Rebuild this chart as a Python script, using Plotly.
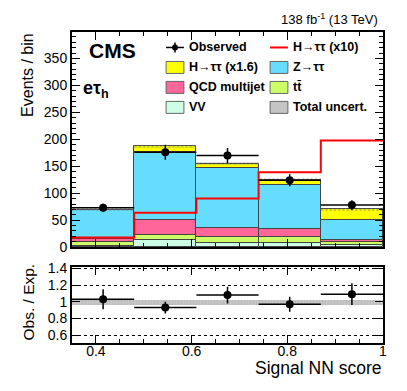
import numpy as np
import plotly.graph_objects as go

# binning of the NN score
edges = [0.35, 0.48, 0.61, 0.74, 0.87, 1.0]

# stacked backgrounds / signal (events per bin)
vv = [3, 13, 8, 8, 4]
ttbar = [7, 9, 10.5, 11, 6]
qcd = [6, 28, 17.5, 14, 3]
ztt = [52, 126, 110, 82, 38]
htt_x16 = [1.5, 11, 9, 10, 19]
htt_x10 = [18, 64, 90, 139, 198]
total_unc = [2.5, 3, 2.5, 3, 3]

observed = [73, 176, 170, 124, 78]
observed_err = [7.5, 14, 14, 11, 9]

ratio = [1.03, 0.93, 1.08, 0.97, 1.09]
ratio_err = [0.12, 0.07, 0.1, 0.09, 0.13]
ratio_unc = [0.03, 0.03, 0.03, 0.03, 0.03]

FONT = "Liberation Sans"
OFF = 8  # page body margin
W, H = 391, 375
L, R, T, B = 64, 13, 23.5, 40

edges_a = np.array(edges)
centers = 0.5 * (edges_a[:-1] + edges_a[1:])
widths = np.diff(edges_a)

fig = go.Figure()

stack = [
    (vv, "#ccffe6"),
    (ttbar, "#ccff66"),
    (qcd, "#ff6699"),
    (ztt, "#66ddff"),
    (htt_x16, "#ffff00"),
]
base = np.zeros(len(centers))
for vals, col in stack:
    fig.add_trace(go.Bar(x=centers, y=vals, base=base.copy(), width=widths,
                         marker=dict(color=col, line=dict(color="#444444", width=1)),
                         showlegend=False, xaxis="x", yaxis="y"))
    base += np.array(vals)

unc = np.array(total_unc)
fig.add_trace(go.Bar(x=centers, y=2 * unc, base=base - unc, width=widths,
                     marker=dict(color="rgba(0,0,0,0)", line=dict(width=0),
                                 pattern=dict(shape="x", fgcolor="#777777", size=3, solidity=0.5)),
                     showlegend=False, xaxis="x", yaxis="y"))

fig.add_trace(go.Scatter(x=edges, y=htt_x10 + [htt_x10[-1]], mode="lines", line_shape="hv",
                         line=dict(color="#ff0000", width=2), showlegend=False,
                         xaxis="x", yaxis="y"))

fig.add_trace(go.Scatter(x=centers, y=observed, mode="markers",
                         marker=dict(color="black", size=8),
                         error_y=dict(type="data", array=observed_err, color="black", thickness=1.5, width=0),
                         error_x=dict(type="data", array=widths / 2, color="black", thickness=1.5, width=0),
                         showlegend=False, xaxis="x", yaxis="y"))

# ratio panel
runc = np.array(ratio_unc)
fig.add_trace(go.Bar(x=centers, y=2 * runc, base=1 - runc, width=widths,
                     marker=dict(color="#c8c8c8", line=dict(width=0),
                                 pattern=dict(shape="+", fgcolor="#a0a0a0", size=3, solidity=0.3)),
                     showlegend=False, xaxis="x2", yaxis="y2"))
fig.add_trace(go.Scatter(x=centers, y=ratio, mode="markers",
                         marker=dict(color="black", size=8),
                         error_y=dict(type="data", array=ratio_err, color="black", thickness=1.5, width=0),
                         error_x=dict(type="data", array=widths / 2, color="black", thickness=1.5, width=0),
                         showlegend=False, xaxis="x2", yaxis="y2"))


# page pixel -> paper coordinates
def px(x):
    return (x - OFF - L) / (W - L - R)


def py(y):
    return (H - B - (y - OFF)) / (H - T - B)


shapes = []
annotations = []

# legend, drawn by hand in two columns
leg = [
    ("obs", "Observed", None, 167, 47),
    ("line", "H\u2192\u03c4\u03c4 (x10)", "#ff0000", 272, 47),
    ("box", "H\u2192\u03c4\u03c4 (x1.6)", "#ffff00", 167, 67),
    ("box", "Z\u2192\u03c4\u03c4", "#66ddff", 272, 67),
    ("box", "QCD multijet", "#ff6699", 167, 87),
    ("box", "t\u0074\u0304", "#ccff66", 272, 87),
    ("box", "VV", "#ccffe6", 167, 107),
    ("box", "Total uncert.", "#c4c4c4", 272, 107),
]
for kind, label, col, x0, yc in leg:
    if kind == "box":
        shapes.append(dict(type="rect", xref="paper", yref="paper",
                           x0=px(x0), x1=px(x0 + 18), y0=py(yc + 6), y1=py(yc - 6),
                           fillcolor=col, line=dict(color="#666666", width=1)))
    elif kind == "line":
        shapes.append(dict(type="line", xref="paper", yref="paper",
                           x0=px(x0), x1=px(x0 + 18), y0=py(yc), y1=py(yc),
                           line=dict(color=col, width=2)))
    else:
        shapes.append(dict(type="line", xref="paper", yref="paper",
                           x0=px(x0), x1=px(x0 + 18), y0=py(yc), y1=py(yc),
                           line=dict(color="black", width=1.5)))
        shapes.append(dict(type="line", xref="paper", yref="paper",
                           x0=px(x0 + 9), x1=px(x0 + 9), y0=py(yc - 5), y1=py(yc + 5),
                           line=dict(color="black", width=1.5)))
        shapes.append(dict(type="circle", xref="paper", yref="paper",
                           x0=px(x0 + 6), x1=px(x0 + 12), y0=py(yc + 3), y1=py(yc - 3),
                           fillcolor="black", line=dict(color="black", width=0)))
    annotations.append(dict(text=label, xref="paper", yref="paper", x=px(x0 + 21), y=py(yc),
                            xanchor="left", yanchor="middle", showarrow=False,
                            font=dict(family=FONT, size=12.5, color="black", weight="bold")))

annotations += [
    dict(text="CMS", xref="paper", yref="paper", x=px(87), y=py(50), xanchor="left",
         yanchor="middle", showarrow=False,
         font=dict(family=FONT, size=21, color="black", weight="bold")),
    dict(text="e\u03c4<sub>h</sub>", xref="paper", yref="paper", x=px(81), y=py(89),
         xanchor="left", yanchor="middle", showarrow=False,
         font=dict(family=FONT, size=18, color="black", weight="bold")),
    dict(text="138 fb<sup>-1</sup> (13 TeV)", xref="paper", yref="paper", x=px(383), y=py(8),
         xanchor="right", yanchor="top", showarrow=False,
         font=dict(family=FONT, size=13, color="black")),
    dict(text="Events / bin", xref="paper", yref="paper", x=px(27), y=py(30),
         xanchor="center", yanchor="top", textangle=-90, showarrow=False,
         font=dict(family=FONT, size=16, color="black")),
    dict(text="Obs. / Exp.", xref="paper", yref="paper", x=px(28), y=py(302),
         xanchor="center", yanchor="middle", textangle=-90, showarrow=False,
         font=dict(family=FONT, size=15.5, color="black")),
    dict(text="Signal NN score", xref="paper", yref="paper", x=px(386), y=py(368),
         xanchor="right", yanchor="middle", showarrow=False,
         font=dict(family=FONT, size=17.5, color="black")),
]

axis_common = dict(showline=True, linecolor="black", linewidth=2, mirror="ticks",
                   ticks="inside", ticklen=8, tickwidth=1, tickcolor="black",
                   zeroline=False,
                   tickfont=dict(family=FONT, size=14, color="black"))

fig.update_layout(
    width=W, height=H,
    margin=dict(l=L, r=R, t=T, b=B),
    paper_bgcolor="white", plot_bgcolor="white",
    barmode="overlay", bargap=0,
    showlegend=False,
    shapes=shapes, annotations=annotations,
    xaxis=dict(domain=[0, 1], range=[0.35, 1.0], anchor="y", matches="x2",
               showticklabels=False, dtick=0.2, tick0=0.4, showgrid=False,
               minor=dict(ticks="inside", dtick=0.05, ticklen=4, tickcolor="black"),
               **axis_common),
    yaxis=dict(domain=[py(247), 1], range=[0, 399], anchor="x", dtick=50, showgrid=False,
               minor=dict(ticks="inside", dtick=10, ticklen=4, tickcolor="black"),
               **axis_common),
    xaxis2=dict(domain=[0, 1], range=[0.35, 1.0], anchor="y2", dtick=0.2, tick0=0.4,
                showticklabels=True, showgrid=False, ticklabelstandoff=-6,
                minor=dict(ticks="inside", dtick=0.05, ticklen=4, tickcolor="black"),
                **axis_common),
    yaxis2=dict(domain=[0, py(266.5)], range=[0.507, 1.42], anchor="x2",
                tickvals=[0.6, 0.8, 1, 1.2, 1.4], ticktext=["0.6", "0.8", "1", "1.2", "1.4"],
                showgrid=True, gridcolor="black", gridwidth=0.7, griddash="dot",
                **axis_common),
)

fig.write_html("out.html")
